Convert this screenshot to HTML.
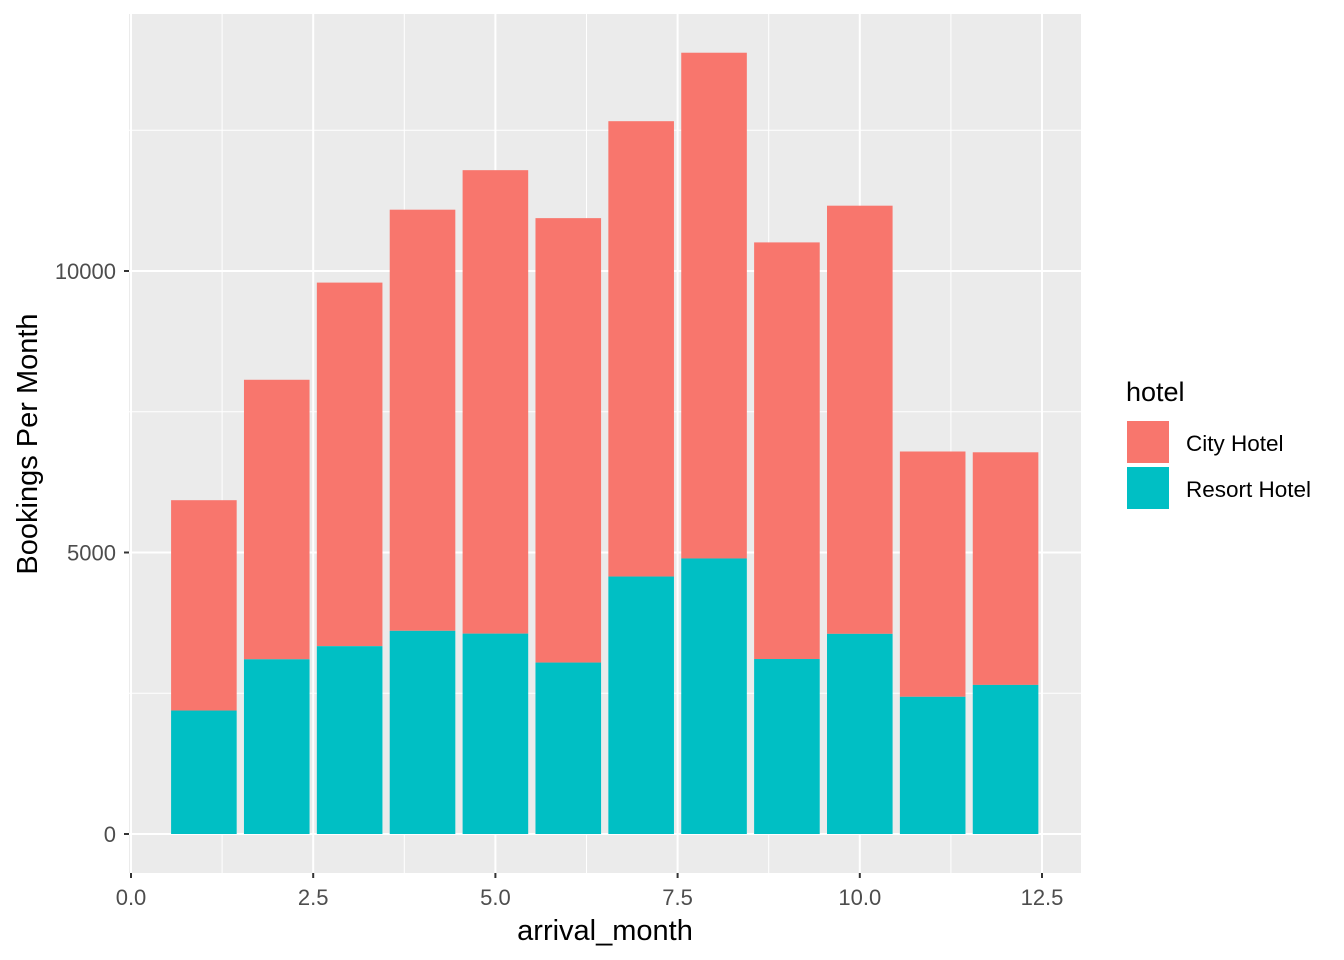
<!DOCTYPE html>
<html><head><meta charset="utf-8"><style>
body{margin:0;background:#fff;}
svg{display:block;font-family:"Liberation Sans",Arial,sans-serif;}
</style></head><body>
<svg id="chart" width="1344" height="960" xmlns="http://www.w3.org/2000/svg">
<rect x="129" y="14" width="952" height="859" fill="#ebebeb"/>
<g id="grid"></g><g id="bars"></g><g id="axes"></g>
<text x="605" y="940" font-size="29" text-anchor="middle" fill="#000">arrival_month</text>
<text transform="translate(37,444) rotate(-90)" font-size="29" text-anchor="middle" fill="#000">Bookings Per Month</text>
<g>
<text x="1126" y="401" font-size="27" fill="#000">hotel</text>
<rect x="1127" y="421" width="42" height="42" fill="#f8766d"/>
<text x="1186" y="451" font-size="22.5" fill="#000">City Hotel</text>
<rect x="1127" y="467" width="42" height="42" fill="#00bfc4"/>
<text x="1186" y="497" font-size="22.5" fill="#000">Resort Hotel</text>
</g>
</svg>
<script>
const months=[1,2,3,4,5,6,7,8,9,10,11,12];
const resortValues=[2193,3103,3336,3609,3559,3045,4573,4894,3108,3555,2437,2648];
const totalValues=[5929,8068,9794,11089,11791,10939,12661,13877,10508,11160,6794,6780];
const xTicks=[0,2.5,5,7.5,10,12.5];
const xTickLabels=["0.0","2.5","5.0","7.5","10.0","12.5"];
const yTicks=[0,5000,10000];
const yMinor=[2500,7500,12500];
const xMinor=[1.25,3.75,6.25,8.75,11.25];
const NS="http://www.w3.org/2000/svg";
const X=v=>131+v*72.88;
const Y=v=>834-v*0.0563;
function mk(p,t,a){const e=document.createElementNS(NS,t);for(const k in a)e.setAttribute(k,a[k]);p.appendChild(e);return e;}
const grid=document.getElementById('grid'),bars=document.getElementById('bars'),axes=document.getElementById('axes');
yMinor.forEach(v=>{const l=mk(grid,'line',{x1:129,x2:1081,y1:Y(v),y2:Y(v),stroke:'#fff','stroke-width':1});

});
xMinor.forEach(v=>{const l=mk(grid,'line',{x1:X(v),x2:X(v),y1:14,y2:873,stroke:'#fff','stroke-width':1});

});
yTicks.forEach(v=>{const l=mk(grid,'line',{x1:129,x2:1081,y1:Y(v),y2:Y(v),stroke:'#fff','stroke-width':2});


const t=mk(axes,'line',{x1:124,x2:129,y1:Y(v),y2:Y(v),stroke:'#333','stroke-width':2});


const s=mk(axes,'text',{x:116,y:Y(v)+8,'font-size':22,'text-anchor':'end',fill:'#4d4d4d'});s.textContent=v;

});
xTicks.forEach((v,i)=>{const l=mk(grid,'line',{x1:X(v),x2:X(v),y1:14,y2:873,stroke:'#fff','stroke-width':2});


const t=mk(axes,'line',{x1:X(v),x2:X(v),y1:873,y2:878,stroke:'#333','stroke-width':2});


const s=mk(axes,'text',{x:X(v),y:905,'font-size':22,'text-anchor':'middle',fill:'#4d4d4d'});s.textContent=xTickLabels[i];

});
months.forEach((m,i)=>{const x0=X(m-0.45),w=X(m+0.45)-x0;
const c=mk(bars,'rect',{x:x0,y:Y(totalValues[i]),width:w,height:Y(resortValues[i])-Y(totalValues[i]),fill:'#f8766d'});


const r=mk(bars,'rect',{x:x0,y:Y(resortValues[i]),width:w,height:Y(0)-Y(resortValues[i]),fill:'#00bfc4'});

});
</script>
</body></html>
